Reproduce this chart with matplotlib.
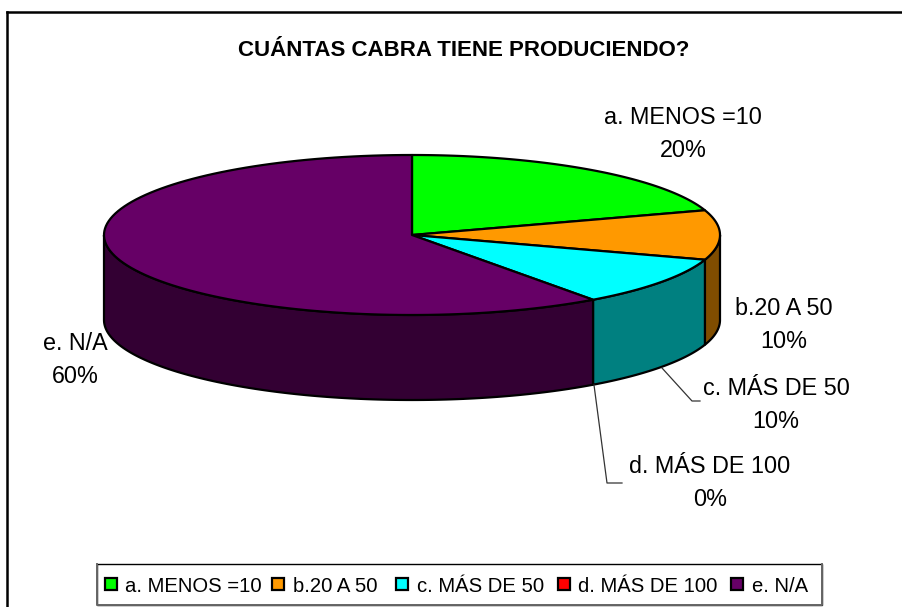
import numpy as np
import matplotlib
matplotlib.use("Agg")
import matplotlib.pyplot as plt
from matplotlib.patches import Polygon, Rectangle

plt.rcParams["font.family"] = ["Liberation Sans", "DejaVu Sans"]

title = "CUÁNTAS CABRA TIENE PRODUCIENDO?"
categories = ["a. MENOS =10", "b.20 A 50", "c. MÁS DE 50", "d. MÁS DE 100", "e. N/A"]
values = [20, 10, 10, 0, 60]
top_colors = ["#00ff00", "#ff9900", "#00ffff", "#ff0000", "#660066"]
side_colors = ["#008000", "#804d00", "#008080", "#800000", "#330033"]

W, H = 902, 607
fig = plt.figure(figsize=(W / 100, H / 100), dpi=100)
ax = fig.add_axes([0, 0, 1, 1])
ax.set_xlim(0, W)
ax.set_ylim(H, 0)
ax.axis("off")

cx, cy, rx, ry, depth = 412, 235, 308, 80, 85


def rim(a0, a1):
    t = np.radians(np.linspace(a0, a1, 120))
    return cx + rx * np.sin(t), cy - ry * np.cos(t)


edges = np.concatenate([[0], np.cumsum(values)]) * 3.6

# sides first, only the front half of the rim shows
for i, v in enumerate(values):
    if v == 0:
        continue
    a0, a1 = max(edges[i], 90), min(edges[i + 1], 270)
    if a1 <= a0:
        continue
    x, y = rim(a0, a1)
    pts = np.r_[np.c_[x, y], np.c_[x[::-1], y[::-1] + depth]]
    ax.add_patch(Polygon(pts, fc=side_colors[i], ec="black", lw=1.6, joinstyle="round"))

for i, v in enumerate(values):
    if v == 0:
        continue
    x, y = rim(edges[i], edges[i + 1])
    pts = np.r_[[[cx, cy]], np.c_[x, y]]
    ax.add_patch(Polygon(pts, fc=top_colors[i], ec="black", lw=1.6, joinstyle="round"))

ax.text(464, 50, title, ha="center", va="center", fontsize=16, fontweight="bold")

lab = dict(ha="center", va="center", fontsize=16.8, linespacing=1.6)
ax.text(683, 134, f"{categories[0]}\n{values[0]}%", **lab)
ax.text(784, 325, f"{categories[1]}\n{values[1]}%", **lab)
ax.text(776, 405, f"{categories[2]}\n{values[2]}%", **lab)
ax.text(710, 483, f"{categories[3]}\n{values[3]}%", **lab)
ax.text(75, 360, f"{categories[4]}\n{values[4]}%", **lab)

# leader lines
ax.plot([662, 692, 700], [368, 401, 401], color="#333333", lw=0.9)
ax.plot([594, 607, 622], [385, 483, 483], color="#333333", lw=0.9)

# legend box, left and bottom edges come out grey
ax.add_patch(Rectangle((97, 564), 725, 41, fc="white", ec="black", lw=1.0, zorder=3))
ax.plot([97, 97, 822, 822], [564, 605, 605, 564], color="#666666", lw=1.4, zorder=3)
swatch_x = [105, 272, 396, 558, 731]
text_x = [125, 293, 417, 578, 752]
for sx, tx, c, name in zip(swatch_x, text_x, top_colors, categories):
    ax.add_patch(Rectangle((sx, 578), 12, 12, fc=c, ec="black", lw=1.6, zorder=4))
    ax.text(tx, 586, name, ha="left", va="center", fontsize=14.6, zorder=4)

# chart border, only top and left are inside the image
ax.plot([7, 7], [12, H], color="black", lw=1.8)
ax.plot([7, W], [12, 12], color="black", lw=1.8)

fig.savefig("out.png", dpi=100)
